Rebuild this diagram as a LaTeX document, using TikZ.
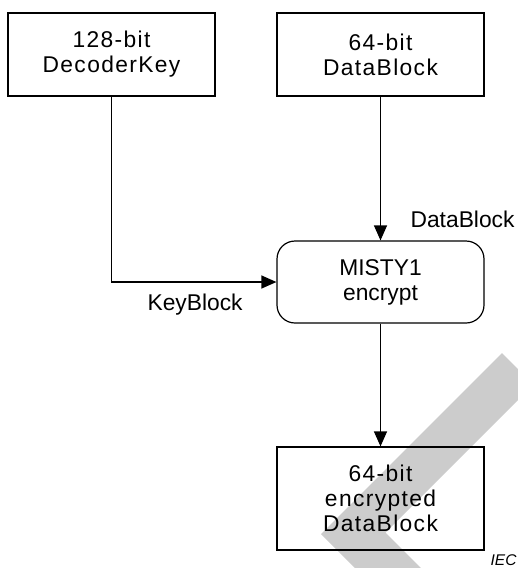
\documentclass[tikz,border=0pt]{standalone}
\usepackage{fontspec}
\setmainfont{Liberation Sans}
\newfontfamily\spacedfont{Liberation Sans}[LetterSpace=6]
\usetikzlibrary{arrows.meta}

\begin{document}
\begin{tikzpicture}[x=1pt,y=-1pt,
  line width=1.2pt,>={Triangle[length=15pt,width=13pt]},
  block/.style={draw,rectangle,minimum width=207pt,minimum height=83pt,
    align=center,font=\spacedfont\fontsize{22.8pt}{25pt}\selectfont},
  process/.style={block,rounded corners=18pt,minimum height=82pt,
    font=\fontsize{22.8pt}{25pt}\selectfont},
  lbl/.style={inner sep=0pt,font=\fontsize{22.8pt}{25pt}\selectfont}]

  \useasboundingbox (0,0) rectangle (518,568);

  % grey band behind everything
  \begin{scope}
    \clip (0,0) rectangle (518,568);
    \fill[black!20] (502,353) -- (533.5,384.5) -- (385.5,532.5) -- (453,600)
      -- (387,600) -- (321,534) -- cycle;
  \end{scope}

  \node[block] (key) at (111.5,54.5) {128-bit\\DecoderKey};
  \node[block] (data) at (380.5,54.5) {64-bit\\DataBlock};
  \node[process] (misty) at (380.5,282) {MISTY1\\encrypt};
  \node[block,minimum height=103pt] (out) at (380.5,498.5) {64-bit\\encrypted\\DataBlock};

  \draw[->] (key.south) |- (misty.west);
  \path[->] (data) edge (misty)
            (misty) edge (out);

  \node[lbl,anchor=base west] (datalbl) at (410,227) {DataBlock};
  \node[lbl,anchor=base west] (keylbl) at (147,310) {KeyBlock};
  \node[inner sep=0pt,anchor=base west,font=\fontsize{15.5pt}{17pt}\selectfont\itshape]
    (iec) at (490,565) {IEC};
\end{tikzpicture}
\end{document}
